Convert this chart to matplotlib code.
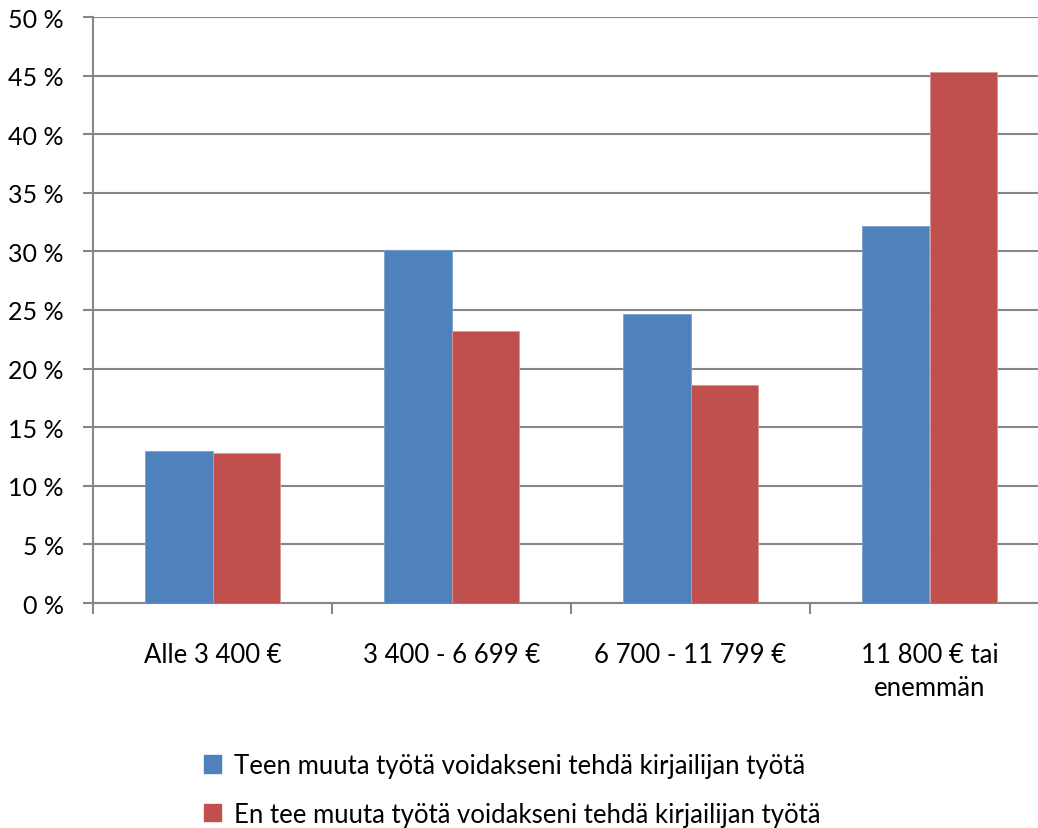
import matplotlib
matplotlib.use("Agg")
import matplotlib.pyplot as plt
import numpy as np

categories = ["Alle 3 400 €", "3 400 - 6 699 €", "6 700 - 11 799 €", "11 800 € tai\nenemmän"]
series_names = ["Teen muuta työtä voidakseni tehdä kirjailijan työtä",
                "En tee muuta työtä voidakseni tehdä kirjailijan työtä"]
blue_vals = [13.0, 30.1, 24.7, 32.2]
red_vals = [12.8, 23.2, 18.6, 45.3]
yticks = [0, 5, 10, 15, 20, 25, 30, 35, 40, 45, 50]

plt.rcParams['font.family'] = ['Lato', 'DejaVu Sans']

W, H = 1038, 829
fig = plt.figure(figsize=(W / 100, H / 100), dpi=100)
left, right = 93 / W, 1049 / W
bottom, top = 1 - 604 / H, 1 - 18 / H
ax = fig.add_axes([left, bottom, right - left, top - bottom])

x = np.arange(len(categories))
bw = 0.283
c_blue = "#4F81BD"
c_red = "#C0504D"
ax.bar(x - bw / 2, blue_vals, bw, color=c_blue, edgecolor="#7BA0CD", linewidth=0.6, zorder=3)
ax.bar(x + bw / 2, red_vals, bw, color=c_red, edgecolor="#D99694", linewidth=0.6, zorder=3)

ax.set_xlim(-0.5, len(categories) - 0.5)
ax.set_ylim(0, 50)
ax.set_yticks(yticks)
ax.set_yticklabels([f"{v} %" for v in yticks])
ax.yaxis.grid(True, color="#868686", linewidth=1.5, zorder=0)
ax.set_axisbelow(True)

for s in ["top", "right"]:
    ax.spines[s].set_visible(False)
for s in ["left", "bottom"]:
    ax.spines[s].set_color("#868686")
    ax.spines[s].set_linewidth(1.5)

ax.tick_params(axis="y", length=7, width=1.5, color="#868686", labelsize=18, pad=14)
ax.set_xticks(x)
ax.set_xticklabels(categories, fontsize=18.5, linespacing=1.4)
ax.tick_params(axis="x", which="major", length=0, pad=28)
ax.set_xticks(np.arange(-0.5, len(categories) + 0.5, 1.0), minor=True)
ax.tick_params(axis="x", which="minor", length=8, width=1.5, color="#868686")
for lab in ax.get_xticklabels():
    lab.set_verticalalignment("top")

handles = [plt.Rectangle((0, 0), 1, 1, color=c_blue), plt.Rectangle((0, 0), 1, 1, color=c_red)]
fig.legend(handles, series_names, loc="upper left", bbox_to_anchor=(204 / W, 1 - 754 / H),
           frameon=False, fontsize=18.5, handlelength=0.65, handleheight=0.65,
           handletextpad=0.5, labelspacing=0.92, borderaxespad=0, borderpad=0)

fig.savefig("out.png", dpi=100)
